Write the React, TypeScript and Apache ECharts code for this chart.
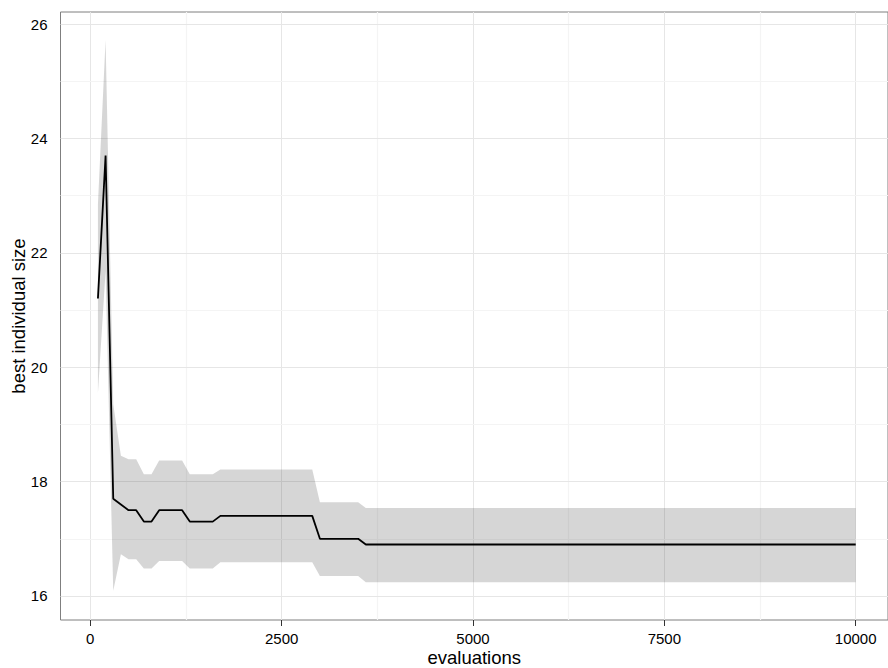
import React, { useEffect, useRef } from "react";
import * as echarts from "echarts";

const evaluations = [100, 200, 300, 400, 500, 600, 700, 800, 900, 1200, 1300, 1600, 1700, 2900, 3000, 3500, 3600, 10000];
const meanSize = [21.2, 23.7, 17.7, 17.6, 17.5, 17.5, 17.3, 17.3, 17.5, 17.5, 17.3, 17.3, 17.4, 17.4, 17.0, 17.0, 16.9, 16.9];
const upperSize = [22.85, 25.72, 19.35, 18.45, 18.39, 18.39, 18.13, 18.13, 18.37, 18.37, 18.13, 18.13, 18.21, 18.21, 17.64, 17.64, 17.54, 17.54];
const lowerSize = [19.55, 21.68, 16.09, 16.73, 16.64, 16.64, 16.48, 16.48, 16.61, 16.61, 16.48, 16.48, 16.59, 16.59, 16.35, 16.35, 16.24, 16.24];

const xTicks = [0, 2500, 5000, 7500, 10000];
const xMinorTicks = [1250, 3750, 6250, 8750];
const yTicks = [16, 18, 20, 22, 24, 26];
const yMinorTicks = [17, 19, 21, 23, 25];

export default function App() {
  const ref = useRef<HTMLDivElement>(null);
  useEffect(() => {
    if (!ref.current) return;
    const chart = echarts.init(ref.current, null, { renderer: "svg" });
    const font = '"Liberation Sans", Arial, Helvetica, sans-serif';
    const major = { color: "#e6e6e6", width: 1, type: "solid" };
    const minor = { color: "#f4f4f4", width: 1.2, type: "solid" };
    const gridLines = [
      ...xTicks.map((v) => ({ xAxis: v, lineStyle: major })),
      ...xMinorTicks.map((v) => ({ xAxis: v, lineStyle: minor })),
      ...yTicks.map((v) => ({ yAxis: v, lineStyle: major })),
      ...yMinorTicks.map((v) => ({ yAxis: v, lineStyle: minor })),
    ];
    const option: any = {
      animation: false,
      backgroundColor: "#ffffff",
      grid: {
        left: 60.5,
        top: 12,
        right: 0,
        height: 608,
        show: true,
        borderColor: "#7f7f7f",
        borderWidth: 1,
        backgroundColor: "#ffffff",
        containLabel: false,
        outerBoundsMode: "none",
      },
      xAxis: {
        type: "value",
        min: -389,
        max: 10422,
        axisLine: { show: false },
        splitLine: { show: false },
        axisTick: { show: true, customValues: xTicks, length: 6, lineStyle: { color: "#333333", width: 1 } },
        axisLabel: {
          customValues: xTicks,
          fontSize: 15,
          color: "#000000",
          margin: 11,
          fontFamily: font,
          formatter: (v: number) => String(v),
        },
        name: "evaluations",
        nameLocation: "middle",
        nameGap: 27.5,
        nameMoveOverlap: false,
        nameTextStyle: { fontSize: 18.5, color: "#000000", fontFamily: font },
      },
      yAxis: {
        type: "value",
        min: 15.58,
        max: 26.21,
        axisLine: { show: false },
        splitLine: { show: false },
        axisTick: { show: true, customValues: yTicks, length: 6, lineStyle: { color: "#333333", width: 1 } },
        axisLabel: {
          customValues: yTicks,
          fontSize: 15,
          color: "#000000",
          margin: 13,
          fontFamily: font,
          formatter: (v: number) => String(v),
        },
        name: "best individual size",
        nameLocation: "middle",
        nameGap: 33,
        nameMoveOverlap: false,
        nameTextStyle: { fontSize: 18.5, color: "#000000", fontFamily: font },
      },
      series: [
        {
          type: "line",
          name: "grid",
          z: 1,
          symbol: "none",
          silent: true,
          lineStyle: { opacity: 0 },
          data: [[evaluations[0], meanSize[0]]],
          markLine: {
            z: 1,
            silent: true,
            symbol: ["none", "none"],
            label: { show: false },
            animation: false,
            data: gridLines,
          },
        },
        {
          type: "custom",
          name: "band",
          z: 2,
          silent: true,
          data: evaluations.map((x, i) => [x, lowerSize[i], upperSize[i]]),
          encode: { x: 0, y: [1, 2] },
          renderItem: (params: any, api: any) => {
            if (params.dataIndex !== 0) return null;
            const pts: number[][] = [];
            for (let i = 0; i < evaluations.length; i++) pts.push(api.coord([evaluations[i], upperSize[i]]));
            for (let i = evaluations.length - 1; i >= 0; i--) pts.push(api.coord([evaluations[i], lowerSize[i]]));
            return {
              type: "polygon",
              shape: { points: pts },
              style: { fill: "rgba(51,51,51,0.2)", stroke: "none" },
            };
          },
        },
        {
          type: "line",
          name: "mean",
          z: 3,
          symbol: "none",
          silent: true,
          lineStyle: { color: "#000000", width: 1.8 },
          data: evaluations.map((x, i) => [x, meanSize[i]]),
        },
      ],
    };
    chart.setOption(option);
    return () => chart.dispose();
  }, []);
  return (
    <div
      ref={ref}
      style={{ position: "absolute", left: 0, top: 0, width: 888, height: 668, background: "#fff" }}
    />
  );
}
